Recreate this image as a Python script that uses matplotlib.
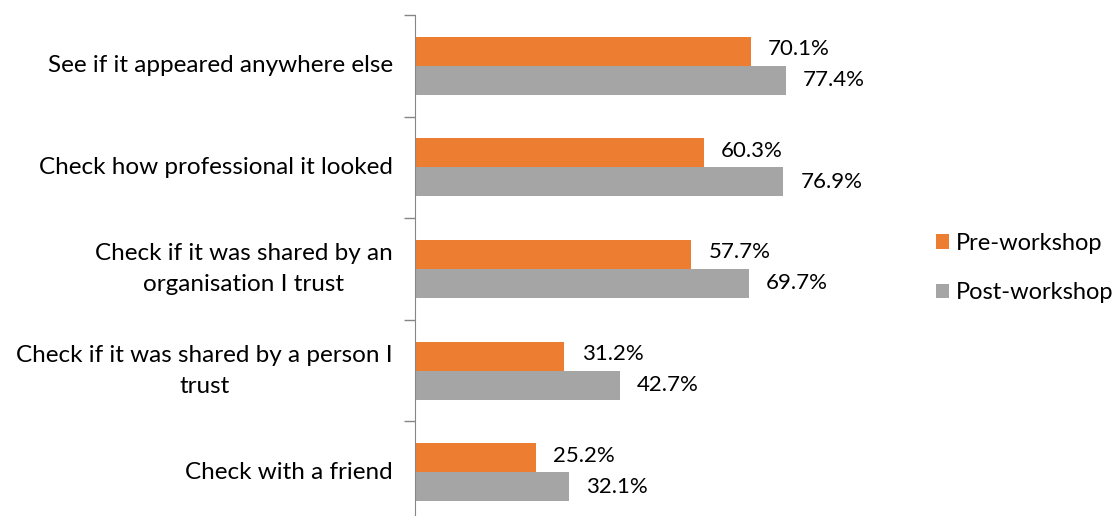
import matplotlib.pyplot as plt
import numpy as np

categories = [
    "See if it appeared anywhere else",
    "Check how professional it looked",
    "Check if it was shared by an\norganisation I trust",
    "Check if it was shared by a person I\ntrust",
    "Check with a friend",
]
pre_workshop = [70.1, 60.3, 57.7, 31.2, 25.2]
post_workshop = [77.4, 76.9, 69.7, 42.7, 32.1]
series_names = ["Pre-workshop", "Post-workshop"]

plt.rcParams["font.family"] = ["Lato", "DejaVu Sans"]

fig = plt.figure(figsize=(11.2, 5.16), dpi=100)
# axes spans x 415..894 px, y from 15 px (top) to 523 px (slightly below figure)
ax = fig.add_axes([415 / 1120, (516 - 523) / 516, 479 / 1120, 508 / 516])

y = np.arange(len(categories))
h = 0.285
ax.barh(y - h / 2, pre_workshop, height=h, color="#ED7D31", label=series_names[0])
ax.barh(y + h / 2, post_workshop, height=h, color="#A5A5A5", label=series_names[1])

for i in range(len(categories)):
    ax.text(pre_workshop[i] + 3.6, y[i] - h / 2 - 0.02, f"{pre_workshop[i]:.1f}%",
            va="center", ha="left", fontsize=16, color="#000000")
    ax.text(post_workshop[i] + 3.6, y[i] + h / 2, f"{post_workshop[i]:.1f}%",
            va="center", ha="left", fontsize=16, color="#000000")

ax.set_xlim(0, 100)
ax.set_ylim(len(categories) - 0.5, -0.5)
ax.set_yticks(y)
ax.set_yticklabels(categories, fontsize=17.5, multialignment="center", linespacing=1.6)
for lbl in ax.get_yticklabels():
    lbl.set_va("center")
ax.set_yticks(np.arange(len(categories) + 1) - 0.5, minor=True)
ax.tick_params(axis="y", which="major", length=0, pad=16)
ax.tick_params(axis="y", which="minor", length=8, color="#868686", width=1)
ax.set_xticks([])
for s in ["top", "right", "bottom"]:
    ax.spines[s].set_visible(False)
ax.spines["left"].set_color("#868686")

leg = fig.legend(loc="center left", bbox_to_anchor=(915 / 1120, 1 - 268 / 516),
                 frameon=False, fontsize=17, handlelength=0.55, handleheight=0.55,
                 handletextpad=0.3, labelspacing=1.2)

fig.savefig("out.png", dpi=100)
